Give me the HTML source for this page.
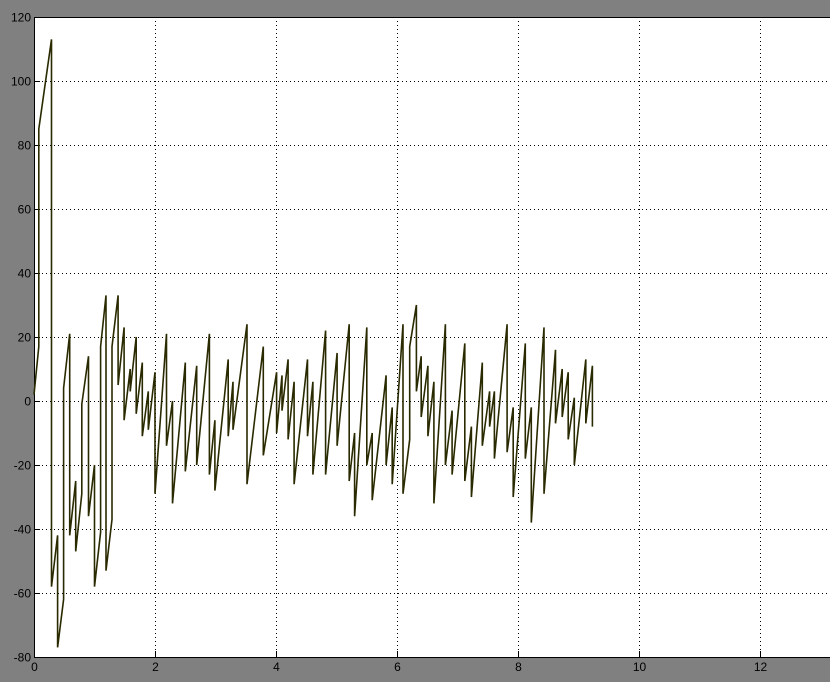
<!DOCTYPE html>
<html><head><meta charset="utf-8"><style>
html,body{margin:0;padding:0;background:#808080;width:830px;height:682px;overflow:hidden}
svg{display:block}
text{font-family:"Liberation Sans",sans-serif;font-size:12px;fill:#000}
</style></head><body>
<svg id="chart" width="830" height="682">
<rect x="0" y="0" width="830" height="682" fill="#808080"/>
<rect x="34" y="17" width="800" height="640" fill="#fff"/>
<g id="grid"></g>
<g id="axes"></g>
<path id="trace" fill="none" stroke="#2a2a00" stroke-width="1.6"/>
</svg>
<script>
const xTicks=[0,2,4,6,8,10,12];
const yTicks=[-80,-60,-40,-20,0,20,40,60,80,100,120];
const toothEndTimes=[0.08,0.29,0.39,0.49,0.59,0.69,0.79,0.90,1.00,1.10,1.19,1.29,1.39,1.49,1.59,1.69,1.79,1.89,2.00,2.19,2.29,2.50,2.69,2.90,2.99,3.21,3.29,3.52,3.79,4.01,4.10,4.20,4.30,4.52,4.61,4.82,5.01,5.21,5.30,5.50,5.59,5.82,5.92,6.10,6.21,6.32,6.40,6.51,6.61,6.80,6.91,7.12,7.23,7.41,7.53,7.61,7.82,7.92,8.12,8.22,8.43,8.62,8.73,8.83,8.93,9.12,9.23];
const toothLows=[2,85,-58,-77,4,-42,-47,-1,-36,-58,17,-53,17,5,-6,3,-4,-11,-9,-29,-14,-32,-22,-20,-23,-28,-11,-9,-26,-17,-10,-3,-12,-26,-11,-23,-23,-14,-25,-36,-20,-31,-20,-26,-29,17,3,-5,-11,-32,-20,-23,-25,-30,-14,-8,-18,-16,-30,-18,-38,-29,-7,-5,-12,-20,-7];
const toothHighs=[17,113,-42,-62,21,-25,-29,14,-20,-41,33,-37,33,23,10,20,12,3,9,21,0,12,11,21,-6,13,6,24,17,9,8,13,6,13,6,22,15,24,-10,23,-10,8,-2,24,-12,30,14,11,6,24,-3,18,-8,12,3,3,24,-2,18,-2,23,16,10,9,1,13,11];
const finalValue=-8;

const X0=34,PX=60.5,Y0=401,PY=3.2;
const sx=t=>X0+t*PX, sy=v=>Y0-v*PY;
const NS="http://www.w3.org/2000/svg";
const grid=document.getElementById('grid'), axes=document.getElementById('axes');
function mk(tag,attrs,parent){const e=document.createElementNS(NS,tag);for(const k in attrs)e.setAttribute(k,attrs[k]);parent.appendChild(e);return e;}

xTicks.forEach(t=>{
  const x=sx(t)+0.5;
  if(t>0){const g=mk('line',{x1:x,y1:17,x2:x,y2:657,stroke:'#000','stroke-width':1,'stroke-dasharray':'1,3'},grid);
  
  }
  const tk=mk('line',{x1:x,y1:657,x2:x,y2:651,stroke:'#000'},axes);
  
  
  const lb=mk('text',{x:x,y:671,'text-anchor':'middle'},axes);lb.textContent=t;
  
  
});
yTicks.forEach(v=>{
  const y=sy(v)+0.5;
  if(v>-80&&v<120){const g=mk('line',{x1:34,y1:y,x2:830,y2:y,stroke:'#000','stroke-width':1,'stroke-dasharray':'1,3'},grid);
  
  }
  const tk=mk('line',{x1:34,y1:y,x2:40,y2:y,stroke:'#000'},axes);
  
  
  const lb=mk('text',{x:31,y:y+4,'text-anchor':'end'},axes);lb.textContent=v;
  
  
});
const box=mk('path',{d:'M830,17.5H34.5V657.5H830',fill:'none',stroke:'#000','stroke-width':1},axes);



let d='', tPrev=0;
toothEndTimes.forEach((te,i)=>{
  d+=(i?'L':'M')+sx(tPrev).toFixed(1)+','+sy(toothLows[i]).toFixed(1);
  d+='L'+sx(te).toFixed(1)+','+sy(toothHighs[i]).toFixed(1);
  tPrev=te;
});
d+='L'+sx(tPrev).toFixed(1)+','+sy(finalValue).toFixed(1);
document.getElementById('trace').setAttribute('d',d);
</script>
</body></html>
